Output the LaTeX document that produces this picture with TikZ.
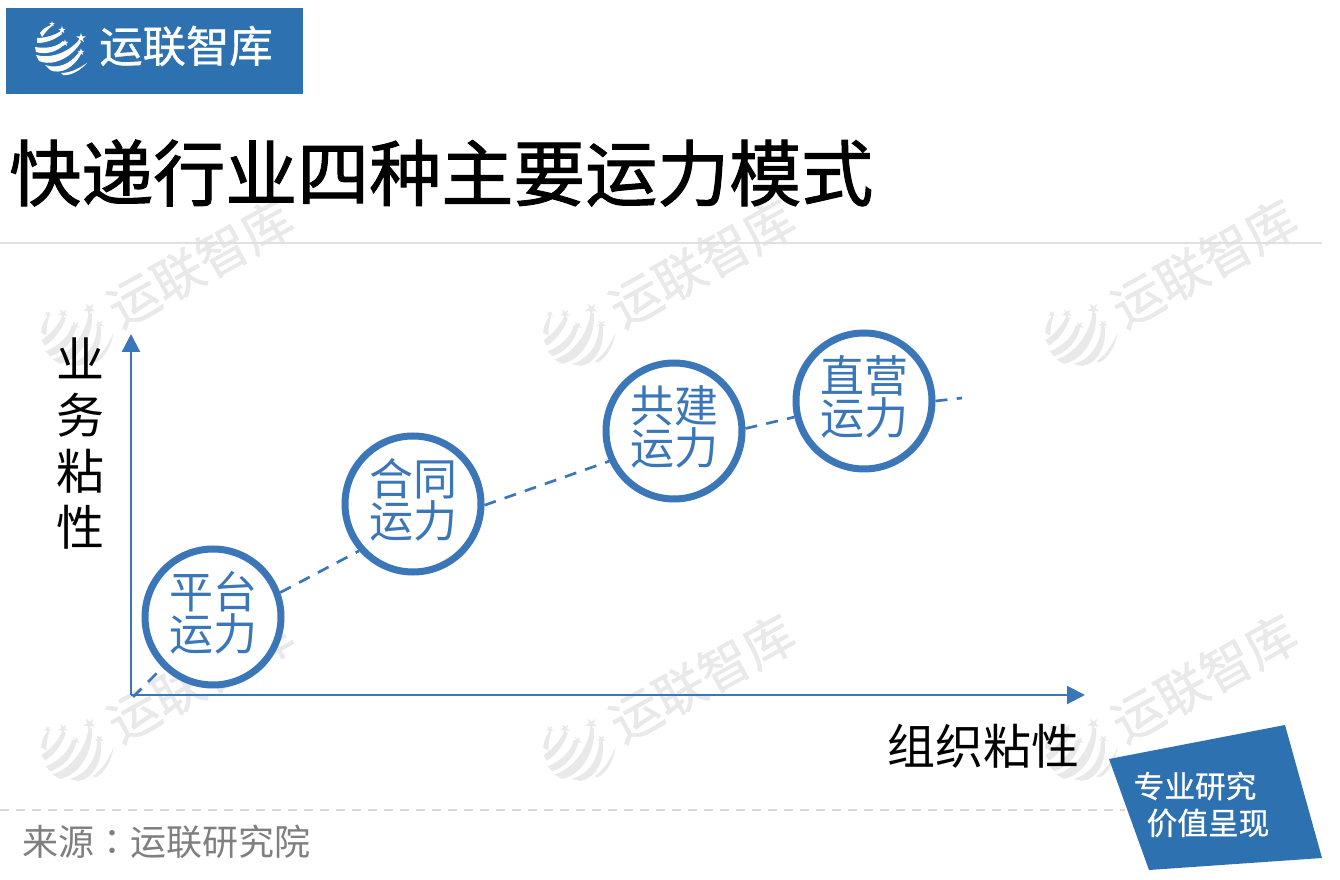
\documentclass[tikz,border=0pt]{standalone}
\usepackage{fontspec}
\setmainfont{Noto Sans CJK SC}
\newfontfamily\tcfont{Noto Sans CJK TC}
\newfontfamily\heavyfont[FakeBold=1.4]{Noto Sans CJK SC}
\newfontfamily\midfont[FakeBold=0.8]{Noto Sans CJK SC}
\usetikzlibrary{arrows.meta,calc}
\definecolor{hdrblue}{HTML}{2E71B0}
\definecolor{lineblue}{HTML}{3A76B8}
\definecolor{wm}{HTML}{E9E9E9}
\definecolor{srcgray}{HTML}{7F7F7F}
\newcommand{\fs}[1]{\fontsize{#1}{#1}\selectfont}
\newcommand{\lstar}[3]{%
 \fill ($(#1,#2)+(0,-#3)$) -- ++(0.22*#3,0.69*#3) -- ++(0.73*#3,0) -- ++(-0.59*#3,0.43*#3) -- ++(0.22*#3,0.69*#3) -- ++(-0.58*#3,-0.43*#3) -- ++(-0.58*#3,0.43*#3) -- ++(0.22*#3,-0.69*#3) -- ++(-0.59*#3,-0.43*#3) -- ++(0.73*#3,0) -- cycle;}
\newcommand{\swirl}[5]{%
 \begin{scope}[shift={(#1,#2)},scale=#3,rotate=#4,#5]
  \fill (-20,-17) .. controls (-17,-21) and (-14,-23) .. (-9,-25) -- (-8,-24) .. controls (-12,-21) and (-15,-17) .. (-18,-13) -- cycle;
  \lstar{-8}{-26}{3}
  \fill (-23,-12) .. controls (-14,-12) and (-5,-15) .. (1,-19) -- (2,-16) .. controls (-6,-10) and (-14,-7) .. (-23,-7) -- cycle;
  \lstar{2}{-20}{4}
  \fill (-25,-3) .. controls (-14,-1) and (-3,-3) .. (3,-9) -- (5,-6) .. controls (-3,2) and (-14,5) .. (-24,2) -- cycle;
  \lstar{5}{-7}{3.6}
  \fill (-24,5) .. controls (-10,9) and (8,3) .. (19,-10) -- (21,-8) .. controls (12,7) and (-6,17) .. (-21,11) -- cycle;
  \lstar{21}{-12}{5}
  \fill (-15,15) .. controls (-3,19) and (10,15) .. (19,2) -- (21,4) .. controls (14,18) and (0,25) .. (-10,20) -- cycle;
  \lstar{21}{2}{3.6}
  \fill (1,23) .. controls (10,23) and (18,19) .. (27,13) .. controls (20,21) and (10,26) .. (3,25) -- cycle;
 \end{scope}}
\newcommand{\wmark}[2]{%
 \swirl{#1-3}{#2+2}{1.3}{33}{fill=wm}
 \node[wmtext] at ({#1+122},{#2-72}) {运联智库};}
\newcommand{\modetext}[2]{\parbox{2.4cm}{\centering #1\\#2\par\vspace*{6pt}}}
\tikzset{
 wmtext/.style={text=wm,rotate=29,font=\midfont\fs{38},inner sep=0pt},
 mode/.style={circle,draw=lineblue,line width=5.25pt,minimum size=102pt,inner sep=0pt,text=lineblue,font=\fontsize{33}{31.5}\selectfont,fill=white},
 axis/.style={draw=lineblue,line width=1.6pt,-{Triangle[length=13.5pt,width=13.5pt]}},
 link/.style={draw=lineblue,line width=2pt,dash pattern=on 9pt off 7pt},
 axlabel/.style={font=\fontsize{36}{42}\selectfont,inner sep=0pt},
}
\begin{document}
\begin{tikzpicture}[x=0.75pt,y=-0.75pt]
\useasboundingbox (0,0) rectangle (1340,880);
\fill[white] (0,0) rectangle (1340,880);
% watermarks
\wmark{78}{335}\wmark{580}{335}\wmark{1082}{335}
\wmark{78}{750}\wmark{580}{750}\wmark{1082}{750}
% header
\fill[hdrblue] (6,8) rectangle (303,94);
\swirl{60}{50}{1}{0}{fill=white}
\node[text=white,font=\midfont\fs{32.5},inner sep=0pt] (brand) at (186,46) {运联智库};
\node[font=\heavyfont\fs{54},inner sep=0pt,anchor=west] (title) at (9,173) {快递行业四种主要运力模式};
\draw[draw=black!12,line width=1.5pt] (0,243) -- (1322,243);
% axes
\coordinate (o) at (131,695);
\coordinate (ytop) at (131,334);
\coordinate (xend) at (1085,695);
\draw[axis] (o) -- (ytop);
\draw[axis] (o) -- (xend);
\node[axlabel,align=center] (ylab) at (80,444) {业\\务\\粘\\性};
\node[axlabel] (xlab) at (983,746) {组织粘性};
% circles
\node[mode] (c1) at (213,617) {\modetext{平台}{运力}};
\node[mode] (c2) at (413,504) {\modetext{合同}{运力}};
\node[mode] (c3) at (674,431) {\modetext{共建}{运力}};
\node[mode] (c4) at (864,401) {\modetext{直营}{运力}};
\coordinate (dstart) at (133,697);
\coordinate (dend) at (962,398);
\draw[link] (dstart) -- (c1.225);
\draw[link] (c1.20) -- (c2.221);
\draw[link] (c2.359) -- (c3.205);
\draw[link] (c3.2) -- (c4.193);
\draw[link] (c4.0) -- (dend);
% footer
\draw[draw=black!15,line width=1.2pt,dash pattern=on 7pt off 5pt] (0,810) -- (1125,810);
\node[text=srcgray,font=\fs{27},inner sep=0pt,anchor=west] (src) at (22,842) {来源{\tcfont ：}运联研究院};
\fill[hdrblue] (1109,759) -- (1285,725) -- (1322,858) -- (1149,870) -- cycle;
\node[text=white,font=\midfont\fs{23},inner sep=0pt] (s1) at (1195,786) {专业研究};
\node[text=white,font=\midfont\fs{23},inner sep=0pt] (s2) at (1208,823) {价值呈现};
\end{tikzpicture}
\end{document}
